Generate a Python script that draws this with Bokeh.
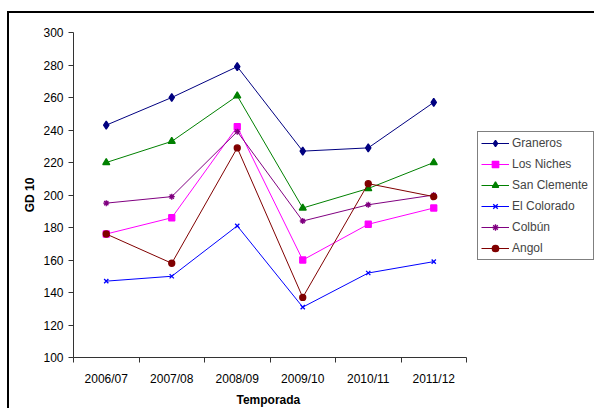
from bokeh.plotting import figure
from bokeh.models import Range1d, FixedTicker, Legend, Title
from bokeh.embed import file_html
from bokeh.resources import INLINE

seasons = ["2006/07", "2007/08", "2008/09", "2009/10", "2010/11", "2011/12"]

graneros     = [243, 260, 279, 227, 229, 257]
los_niches   = [176, 186, 242, 160, 182, 192]
san_clemente = [220, 233, 261, 192, 204, 220]
el_colorado  = [147, 150, 181, 131, 152, 159]
colbun       = [195, 199, 239, 184, 194, 200]
angol        = [176, 158, 229, 137, 207, 199]

series = [
    ("Graneros", graneros, "#000080", "diamond", 8),
    ("Los Niches", los_niches, "#FF00FF", "square", 6),
    ("San Clemente", san_clemente, "#008000", "triangle", 7),
    ("El Colorado", el_colorado, "#0000FF", "x", 6),
    ("Colbún", colbun, "#800080", "asterisk", 6),
    ("Angol", angol, "#800000", "circle", 6),
]

FONT = "Liberation Sans"

# the frame is widened to the right to hold the legend; the x axis is bounded
# to the six seasons, 65.5 px per season
p = figure(
    frame_width=521, frame_height=325,
    x_range=Range1d(0.5, 0.5 + 521 / 65.5), y_range=Range1d(100, 300),
    output_backend="svg", toolbar_location=None,
    min_border_left=64, min_border_right=0,
    min_border_top=19, min_border_bottom=50,
    margin=(11, 0, 0, 7),
    styles={"border-left": "2px solid black", "border-top": "2px solid black"},
)
p.outline_line_color = None
p.xgrid.visible = False
p.ygrid.visible = False

xs = list(range(1, len(seasons) + 1))
items = []
for name, vals, color, marker, size in series:
    r1 = p.line(xs, vals, line_color=color, line_width=1)
    r2 = p.scatter(xs, vals, marker=marker, size=size, color=color, line_width=1.3)
    items.append((name, [r1, r2]))

# x axis: labels at category centres, ticks between categories
p.xaxis.bounds = (0.5, 6.5)
p.xaxis.ticker = FixedTicker(ticks=xs, minor_ticks=[x + 0.5 for x in range(0, 7)])
p.xaxis.major_label_overrides = {i + 1: s for i, s in enumerate(seasons)}
p.xaxis.major_tick_out = 0
p.xaxis.major_tick_in = 0
p.xaxis.minor_tick_out = 5
p.xaxis.minor_tick_in = 0
p.xaxis.major_label_standoff = 9

p.yaxis.ticker = FixedTicker(ticks=list(range(100, 301, 20)))
p.yaxis.major_tick_out = 5
p.yaxis.major_tick_in = 0
p.yaxis.minor_tick_out = 0
p.yaxis.minor_tick_in = 0
p.yaxis.major_label_standoff = 5
p.yaxis.axis_label = "GD 10"
p.yaxis.axis_label_standoff = 3

for ax in (p.xaxis[0], p.yaxis[0]):
    ax.axis_line_color = "#333333"
    ax.major_tick_line_color = "#333333"
    ax.minor_tick_line_color = "#333333"
    ax.major_label_text_font = FONT
    ax.major_label_text_font_size = "12px"
    ax.major_label_text_color = "black"
    ax.axis_label_text_font = FONT
    ax.axis_label_text_font_size = "12px"
    ax.axis_label_text_font_style = "bold"
    ax.axis_label_text_color = "black"

# x axis title centred under the six seasons, not the widened frame
xlabel = Title(text="Temporada", align="left", offset=163, standoff=4,
               text_font=FONT, text_font_size="12px", text_font_style="bold",
               text_color="black")
p.add_layout(xlabel, "below")

legend = Legend(items=items, location=(404, 97))
legend.label_text_font = FONT
legend.label_text_font_size = "12px"
legend.glyph_width = 28
legend.glyph_height = 16
legend.label_height = 16
legend.label_width = 78
legend.spacing = 5
legend.padding = 3
legend.margin = 0
legend.label_standoff = 3
legend.border_line_color = "black"
legend.border_line_width = 1
p.add_layout(legend)

open("out.html", "w").write(file_html(p, INLINE))
